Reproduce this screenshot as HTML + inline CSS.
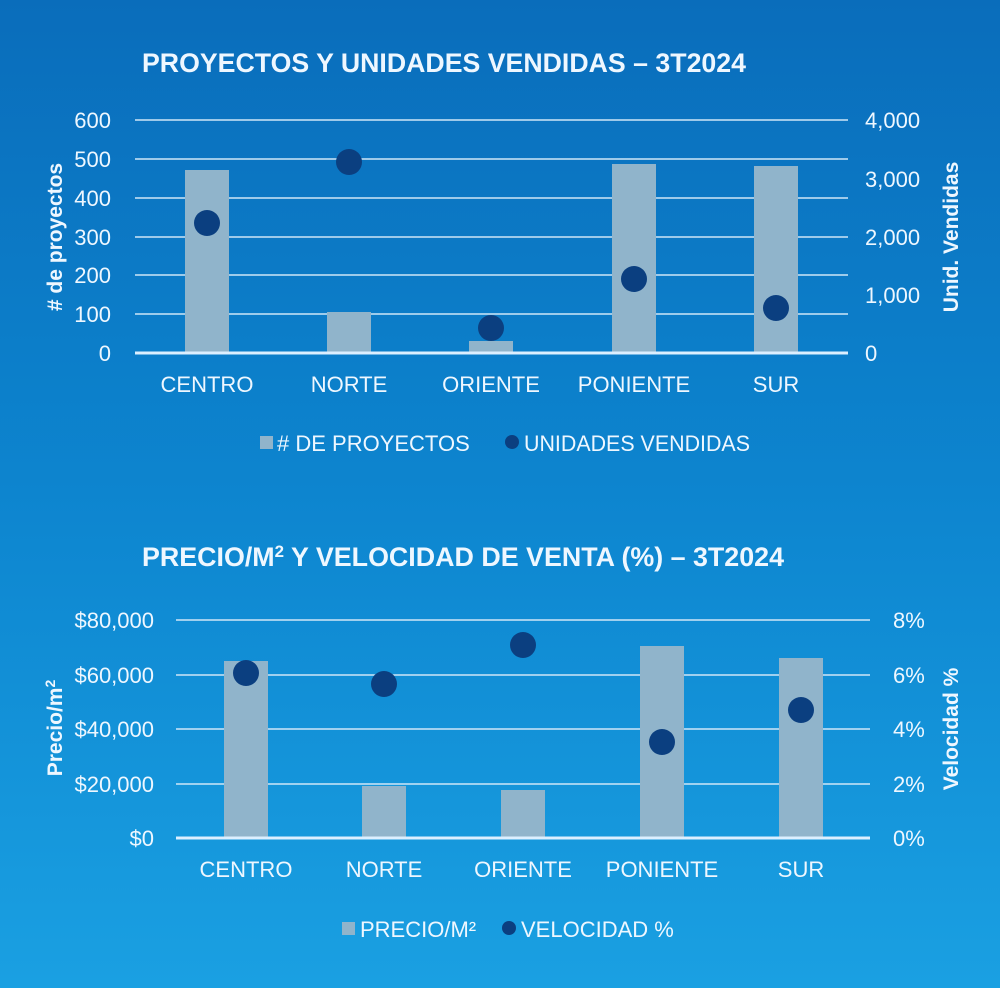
<!DOCTYPE html>
<html><head><meta charset="utf-8"><style>
html,body{margin:0;padding:0;width:1000px;height:988px;overflow:hidden}
svg{display:block}
text{font-family:"Liberation Sans Narrow","Liberation Sans",sans-serif;fill:#eef7ff}
.t{font-size:22px}
.h{font-size:27px;font-weight:bold}
.a{font-size:21px;font-weight:bold}
</style></head><body>
<svg width="1000" height="988" viewBox="0 0 1000 988" xmlns="http://www.w3.org/2000/svg">
<defs><linearGradient id="bg" x1="0" y1="0" x2="0" y2="1">
<stop offset="0" stop-color="#0a6dbb"/><stop offset="0.5" stop-color="#0d85cf"/><stop offset="1" stop-color="#1aa0e2"/></linearGradient></defs>
<rect width="1000" height="988" fill="url(#bg)"/>

<!-- Chart 1 -->
<text class="h" x="142" y="72" textLength="604" lengthAdjust="spacingAndGlyphs">PROYECTOS Y UNIDADES VENDIDAS – 3T2024</text>
<g stroke="#cfe6f7" stroke-width="1.5">
<line x1="135" x2="848" y1="120" y2="120"/><line x1="135" x2="848" y1="159" y2="159"/>
<line x1="135" x2="848" y1="198" y2="198"/><line x1="135" x2="848" y1="237" y2="237"/>
<line x1="135" x2="848" y1="275" y2="275"/><line x1="135" x2="848" y1="314" y2="314"/>
</g>
<g fill="#90b4cb">
<rect x="185" y="170" width="44" height="183"/><rect x="327" y="312" width="44" height="41"/>
<rect x="469" y="341" width="44" height="12"/><rect x="612" y="164" width="44" height="189"/>
<rect x="754" y="166" width="44" height="187"/>
</g>
<line x1="135" x2="848" y1="353" y2="353" stroke="#dcefff" stroke-width="3"/>
<g fill="#0b3f80">
<circle cx="207" cy="223" r="13"/><circle cx="349" cy="162" r="13"/><circle cx="491" cy="328" r="13"/>
<circle cx="634" cy="279" r="13"/><circle cx="776" cy="308" r="13"/>
</g>
<g class="t" text-anchor="end">
<text x="111" y="128">600</text><text x="111" y="167">500</text><text x="111" y="206">400</text>
<text x="111" y="245">300</text><text x="111" y="283">200</text><text x="111" y="322">100</text><text x="111" y="361">0</text>
</g>
<g class="t">
<text x="865" y="128">4,000</text><text x="865" y="187">3,000</text><text x="865" y="245">2,000</text>
<text x="865" y="303">1,000</text><text x="865" y="361">0</text>
</g>
<g class="t" text-anchor="middle">
<text x="207" y="392">CENTRO</text><text x="349" y="392">NORTE</text><text x="491" y="392">ORIENTE</text>
<text x="634" y="392">PONIENTE</text><text x="776" y="392">SUR</text>
</g>
<text class="a" transform="translate(62,237) rotate(-90)" text-anchor="middle">#  de proyectos</text>
<text class="a" transform="translate(958,237) rotate(-90)" text-anchor="middle">Unid. Vendidas</text>
<rect x="260" y="436" width="13" height="13" fill="#90b4cb"/>
<text class="t" x="277" y="451">#  DE PROYECTOS</text>
<circle cx="512" cy="442" r="7" fill="#0b3f80"/>
<text class="t" x="524" y="451" textLength="226" lengthAdjust="spacingAndGlyphs">UNIDADES VENDIDAS</text>

<!-- Chart 2 -->
<text class="h" x="142" y="566" textLength="642" lengthAdjust="spacingAndGlyphs">PRECIO/M<tspan dy="-9" font-size="17">2</tspan><tspan dy="9"> Y VELOCIDAD DE VENTA (%) – 3T2024</tspan></text>
<g stroke="#cfe6f7" stroke-width="1.5">
<line x1="176" x2="870" y1="620" y2="620"/><line x1="176" x2="870" y1="675" y2="675"/>
<line x1="176" x2="870" y1="729" y2="729"/><line x1="176" x2="870" y1="784" y2="784"/>
</g>
<g fill="#90b4cb">
<rect x="224" y="661" width="44" height="177"/><rect x="362" y="786" width="44" height="52"/>
<rect x="501" y="790" width="44" height="48"/><rect x="640" y="646" width="44" height="192"/>
<rect x="779" y="658" width="44" height="180"/>
</g>
<line x1="176" x2="870" y1="838" y2="838" stroke="#dcefff" stroke-width="3"/>
<g fill="#0b3f80">
<circle cx="246" cy="673" r="13"/><circle cx="384" cy="684" r="13"/><circle cx="523" cy="645" r="13"/>
<circle cx="662" cy="742" r="13"/><circle cx="801" cy="710" r="13"/>
</g>
<g class="t" text-anchor="end">
<text x="154" y="628">$80,000</text><text x="154" y="683">$60,000</text><text x="154" y="737">$40,000</text>
<text x="154" y="792">$20,000</text><text x="154" y="846">$0</text>
</g>
<g class="t">
<text x="893" y="628">8%</text><text x="893" y="683">6%</text><text x="893" y="737">4%</text>
<text x="893" y="792">2%</text><text x="893" y="846">0%</text>
</g>
<g class="t" text-anchor="middle">
<text x="246" y="877">CENTRO</text><text x="384" y="877">NORTE</text><text x="523" y="877">ORIENTE</text>
<text x="662" y="877">PONIENTE</text><text x="801" y="877">SUR</text>
</g>
<text class="a" transform="translate(62,728) rotate(-90)" text-anchor="middle">Precio/m<tspan dy="-7" font-size="14">2</tspan></text>
<text class="a" transform="translate(958,729) rotate(-90)" text-anchor="middle">Velocidad %</text>
<rect x="342" y="922" width="13" height="13" fill="#90b4cb"/>
<text class="t" x="360" y="937">PRECIO/M²</text>
<circle cx="509" cy="928" r="7" fill="#0b3f80"/>
<text class="t" x="521" y="937">VELOCIDAD %</text>
</svg>
</body></html>
